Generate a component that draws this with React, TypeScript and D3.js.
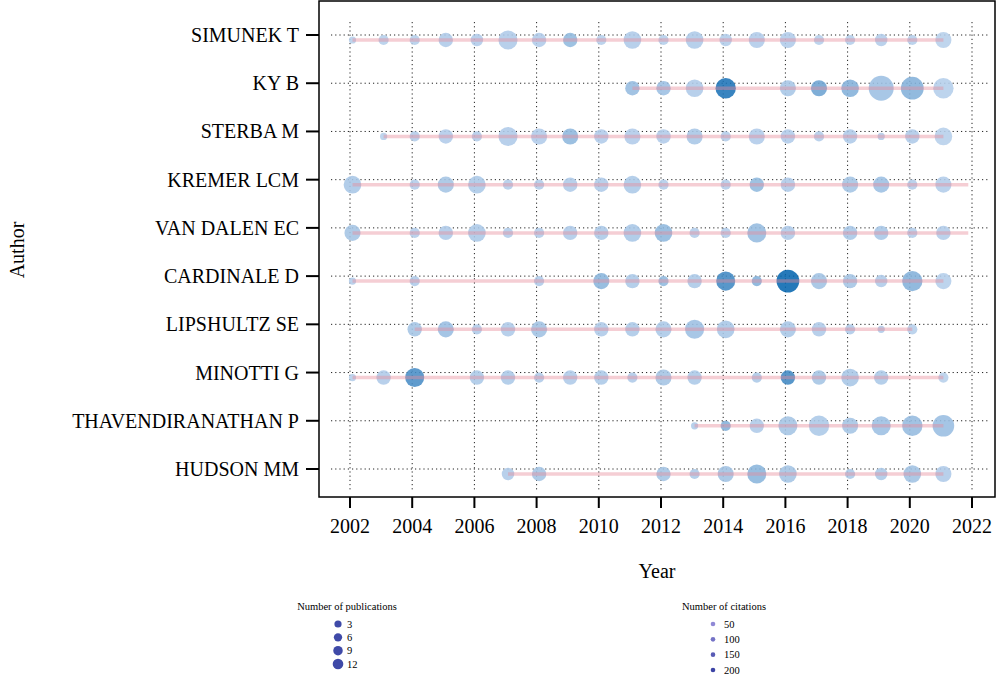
import React, { useRef, useEffect } from "react";
import * as d3 from "d3";

const authors = [
  "SIMUNEK T",
  "KY B",
  "STERBA M",
  "KREMER LCM",
  "VAN DALEN EC",
  "CARDINALE D",
  "LIPSHULTZ SE",
  "MINOTTI G",
  "THAVENDIRANATHAN P",
  "HUDSON MM",
];

// [year, publications, citations]
const simunekT = [
  [2002, 1, 10], [2003, 2, 12], [2004, 2, 12], [2005, 4, 20], [2006, 3, 18],
  [2007, 7, 20], [2008, 4, 18], [2009, 4, 60], [2010, 2, 12], [2011, 6, 20],
  [2012, 2, 12], [2013, 6, 22], [2014, 3, 15], [2015, 5, 18], [2016, 5, 18],
  [2017, 2, 12], [2018, 2, 12], [2019, 3, 15], [2020, 2, 12], [2021, 5, 10],
];
const kyB = [
  [2011, 4, 55], [2012, 4, 45], [2013, 6, 20], [2014, 8, 220], [2016, 5, 30],
  [2017, 5, 110], [2018, 6, 80], [2019, 12, 45], [2020, 10, 80], [2021, 8, 12],
];
const sterbaM = [
  [2003, 1, 10], [2004, 2, 15], [2005, 4, 18], [2006, 2, 15], [2007, 7, 20],
  [2008, 5, 18], [2009, 5, 65], [2010, 4, 18], [2011, 5, 18], [2012, 4, 18],
  [2013, 5, 30], [2014, 2, 15], [2015, 5, 18], [2016, 4, 18], [2017, 2, 15],
  [2018, 4, 20], [2019, 1, 15], [2020, 4, 20], [2021, 6, 10],
];
const kremerLCM = [
  [2002, 6, 30], [2004, 2, 15], [2005, 5, 35], [2006, 6, 25], [2007, 2, 15],
  [2008, 2, 15], [2009, 4, 20], [2010, 4, 20], [2011, 6, 25], [2012, 2, 15],
  [2014, 2, 15], [2015, 4, 60], [2016, 4, 20], [2018, 5, 35], [2019, 5, 45],
  [2020, 2, 15], [2021, 5, 15],
];
const vanDalenEC = [
  [2002, 5, 35], [2004, 2, 15], [2005, 4, 20], [2006, 6, 25], [2007, 2, 15],
  [2008, 2, 15], [2009, 4, 20], [2010, 4, 25], [2011, 6, 30], [2012, 6, 65],
  [2013, 2, 15], [2014, 2, 15], [2015, 7, 55], [2016, 4, 20], [2018, 4, 30],
  [2019, 4, 30], [2020, 2, 15], [2021, 4, 15],
];
const cardinaleD = [
  [2002, 1, 15], [2004, 2, 20], [2008, 2, 20], [2010, 5, 70], [2011, 4, 25],
  [2012, 2, 60], [2013, 4, 25], [2014, 7, 170], [2015, 2, 80], [2016, 10, 250],
  [2017, 5, 40], [2018, 4, 35], [2019, 3, 20], [2020, 8, 80], [2021, 5, 12],
];
const lipshultzSE = [
  [2004, 4, 35], [2005, 5, 50], [2006, 2, 20], [2007, 4, 20], [2008, 5, 40],
  [2010, 4, 20], [2011, 4, 25], [2012, 5, 25], [2013, 7, 45], [2014, 6, 30],
  [2016, 5, 30], [2017, 4, 20], [2018, 2, 20], [2019, 1, 20], [2020, 2, 12],
];
const minottiG = [
  [2002, 1, 12], [2003, 4, 20], [2004, 7, 160], [2006, 4, 25], [2007, 4, 25],
  [2008, 2, 20], [2009, 4, 20], [2010, 4, 25], [2011, 2, 20], [2012, 5, 35],
  [2013, 4, 25], [2015, 2, 25], [2016, 4, 170], [2017, 4, 35], [2018, 6, 30],
  [2019, 4, 25], [2021, 2, 10],
];
const thavendiranathanP = [
  [2013, 1, 20], [2014, 2, 80], [2015, 4, 20], [2016, 7, 35], [2017, 8, 25],
  [2018, 5, 35], [2019, 7, 45], [2020, 8, 55], [2021, 9, 50],
];
const hudsonMM = [
  [2007, 3, 20], [2008, 4, 35], [2012, 4, 35], [2013, 2, 25], [2014, 5, 40],
  [2015, 7, 70], [2016, 6, 35], [2018, 2, 25], [2019, 3, 25], [2020, 6, 40],
  [2021, 5, 20],
];

const authorRows = [
  simunekT, kyB, sterbaM, kremerLCM, vanDalenEC,
  cardinaleD, lipshultzSE, minottiG, thavendiranathanP, hudsonMM,
];
const lineEnds = [2021, 2021, 2021, 2021.8, 2021.8, 2021, 2020, 2021, 2021, 2021];

const yearTicks = [2002, 2004, 2006, 2008, 2010, 2012, 2014, 2016, 2018, 2020, 2022];
const pubLegend = [3, 6, 9, 12];
const citeLegend = [50, 100, 150, 200];

const W = 997, H = 677;
const panel = { left: 319, top: 1, right: 995, bottom: 497 };
const SERIF = "'Liberation Serif', 'DejaVu Serif', serif";

const App = () => {
  const svgRef = useRef<SVGSVGElement>(null);

  useEffect(() => {
    const svg = d3.select(svgRef.current);
    svg.selectAll("*").remove();

    const x = d3.scaleLinear().domain([2002, 2022]).range([350, 972]);
    const y = d3.scalePoint<string>().domain(authors).range([35, 469]);
    const r = d3.scaleSqrt().domain([0, 13]).range([0, 13]);
    const color = d3.scaleLinear<string>()
      .domain([0, 260])
      .range(["#bdd3ed", "#0062ad"])
      .clamp(true);
    const nudgeX = 2.5, nudgeY = 5;

    // grid
    const grid = svg.append("g")
      .attr("stroke", "#222")
      .attr("stroke-width", 1)
      .attr("stroke-dasharray", "1.2,3");
    grid.selectAll(".hg")
      .data(authors)
      .enter().append("line")
      .attr("x1", 331).attr("x2", 990)
      .attr("y1", d => y(d)!).attr("y2", d => y(d)!);
    grid.selectAll(".vg")
      .data(yearTicks)
      .enter().append("line")
      .attr("x1", d => x(d)).attr("x2", d => x(d))
      .attr("y1", 22).attr("y2", 492);

    // bubbles
    authorRows.forEach((rows, i) => {
      const cy = y(authors[i])! + nudgeY;
      svg.append("g")
        .selectAll("circle")
        .data(rows)
        .enter().append("circle")
        .attr("cx", d => x(d[0]) + nudgeX)
        .attr("cy", cy)
        .attr("r", d => r(d[1]))
        .attr("fill", d => color(d[2]))
        .attr("fill-opacity", 0.88);
    });

    // production lines
    authorRows.forEach((rows, i) => {
      const cy = y(authors[i])! + nudgeY;
      svg.append("line")
        .attr("x1", x(rows[0][0]) + nudgeX)
        .attr("x2", x(lineEnds[i]) + nudgeX)
        .attr("y1", cy).attr("y2", cy)
        .attr("stroke", "#e68a98")
        .attr("stroke-opacity", 0.42)
        .attr("stroke-width", 3.5);
    });

    // panel frame
    svg.append("rect")
      .attr("x", panel.left).attr("y", panel.top)
      .attr("width", panel.right - panel.left)
      .attr("height", panel.bottom - panel.top)
      .attr("fill", "none")
      .attr("stroke", "#000")
      .attr("stroke-width", 1.5);

    // y axis
    const ya = svg.append("g");
    ya.selectAll("line")
      .data(authors)
      .enter().append("line")
      .attr("x1", 306).attr("x2", panel.left)
      .attr("y1", d => y(d)!).attr("y2", d => y(d)!)
      .attr("stroke", "#000").attr("stroke-width", 2);
    ya.selectAll("text")
      .data(authors)
      .enter().append("text")
      .attr("x", 299)
      .attr("y", d => y(d)!)
      .attr("dy", "0.35em")
      .attr("text-anchor", "end")
      .style("font-family", SERIF)
      .style("font-size", "20px")
      .text(d => d);

    // x axis
    const xa = svg.append("g");
    xa.selectAll("line")
      .data(yearTicks)
      .enter().append("line")
      .attr("x1", d => x(d)).attr("x2", d => x(d))
      .attr("y1", panel.bottom).attr("y2", panel.bottom + 11)
      .attr("stroke", "#000").attr("stroke-width", 2);
    xa.selectAll("text")
      .data(yearTicks)
      .enter().append("text")
      .attr("x", d => x(d))
      .attr("y", 533)
      .attr("text-anchor", "middle")
      .style("font-family", SERIF)
      .style("font-size", "20px")
      .text(d => d);

    // axis titles
    svg.append("text")
      .attr("x", 657).attr("y", 578)
      .attr("text-anchor", "middle")
      .style("font-family", SERIF)
      .style("font-size", "20px")
      .text("Year");
    svg.append("text")
      .attr("transform", "translate(24,250) rotate(-90)")
      .attr("text-anchor", "middle")
      .style("font-family", SERIF)
      .style("font-size", "20px")
      .text("Author");

    // legend: publications
    const lp = svg.append("g");
    const lpY = d3.scalePoint<number>().domain(pubLegend).range([624, 664]);
    const lpR = d3.scaleLinear().domain([3, 12]).range([3.6, 5.3]);
    lp.append("text")
      .attr("x", 347).attr("y", 610)
      .attr("text-anchor", "middle")
      .style("font-family", SERIF)
      .style("font-size", "10.5px")
      .text("Number of publications");
    lp.selectAll("circle")
      .data(pubLegend)
      .enter().append("circle")
      .attr("cx", 338).attr("cy", d => lpY(d)!)
      .attr("r", d => lpR(d))
      .attr("fill", "#3f4aa8");
    lp.selectAll(".lab")
      .data(pubLegend)
      .enter().append("text")
      .attr("x", 347).attr("y", d => lpY(d)!)
      .attr("dy", "0.35em")
      .style("font-family", SERIF)
      .style("font-size", "10.5px")
      .text(d => d);

    // legend: citations
    const lc = svg.append("g");
    const lcY = d3.scalePoint<number>().domain(citeLegend).range([624, 670]);
    const lcC = d3.scaleLinear<string>().domain([50, 200]).range(["#9089d6", "#3c44a5"]);
    lc.append("text")
      .attr("x", 724).attr("y", 610)
      .attr("text-anchor", "middle")
      .style("font-family", SERIF)
      .style("font-size", "10.5px")
      .text("Number of citations");
    lc.selectAll("circle")
      .data(citeLegend)
      .enter().append("circle")
      .attr("cx", 713).attr("cy", d => lcY(d)!)
      .attr("r", 2.3)
      .attr("fill", d => lcC(d));
    lc.selectAll(".lab")
      .data(citeLegend)
      .enter().append("text")
      .attr("x", 724).attr("y", d => lcY(d)!)
      .attr("dy", "0.35em")
      .style("font-family", SERIF)
      .style("font-size", "10.5px")
      .text(d => d);
  }, []);

  return (
    <svg
      ref={svgRef}
      width={W}
      height={H}
      style={{ position: "absolute", left: 0, top: 0, background: "#fff" }}
    />
  );
};

export default App;
